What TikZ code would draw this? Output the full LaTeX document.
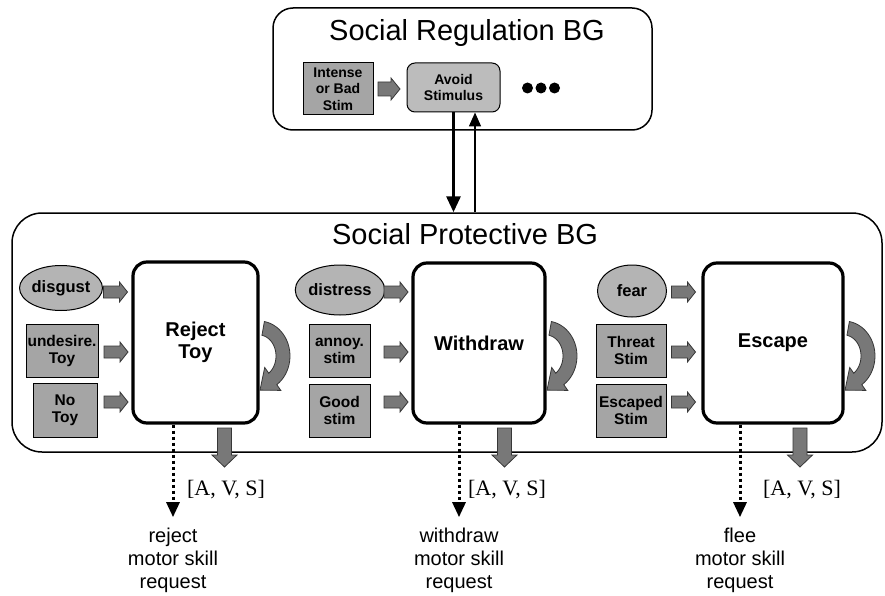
\documentclass[tikz,border=0pt]{standalone}
\usepackage{fontspec}
\setmainfont{Liberation Sans}
\newfontfamily\avsfont{Liberation Serif}
\usetikzlibrary{shapes.geometric,arrows.meta,positioning,calc}
\definecolor{stimgray}{RGB}{165,165,165}
\definecolor{emogray}{RGB}{180,180,180}
\definecolor{avoidgray}{RGB}{188,188,188}
\definecolor{arrowgray}{RGB}{120,120,120}
\definecolor{rimgray}{RGB}{55,55,55}

\begin{document}
\begin{tikzpicture}[x=1pt, y=-1pt,
    bgframe/.style={draw, line width=1.5pt, rounded corners=20pt, inner sep=0pt},
    bgtitle/.style={font=\fontsize{29}{34}\selectfont},
    behbox/.style={draw, fill=white, line width=3.2pt, rounded corners=14pt, align=center, inner sep=0pt, font=\fontsize{20}{22}\selectfont\bfseries},
    stimbox/.style={draw, fill=stimgray, line width=1pt, align=center, inner sep=0pt, font=\fontsize{15.5}{17}\selectfont\bfseries},
    emobox/.style={ellipse, draw, fill=emogray, line width=1pt, inner sep=0pt, font=\fontsize{16.5}{18}\selectfont\bfseries},
    topbox/.style={draw, fill=stimgray, line width=1pt, align=center, inner sep=0pt, font=\fontsize{14}{16.5}\selectfont\bfseries},
    dotdot/.style={circle, fill=black, inner sep=0pt, minimum size=11pt},
    dotarr/.style={line width=3pt, dash pattern=on 3pt off 3pt, -{Triangle[width=13pt,length=15pt]}},
    downarr/.style={line width=3pt, -{Triangle[width=14pt,length=16pt]}},
    uparr/.style={line width=1.6pt, -{Triangle[width=12pt,length=14pt]}},
    avslabel/.style={font=\avsfont\fontsize{22}{24}\selectfont},
    reqlabel/.style={align=center, font=\fontsize{20}{23}\selectfont},
    pics/inarr/.style={code={
      \fill[arrowgray, draw=rimgray, line width=0.8pt]
        (-12,-6) -- (4,-6) -- (4,-10) -- (12,0) -- (4,10) -- (4,6) -- (-12,6) -- cycle;
    }},
    pics/toparr/.style={code={
      \fill[arrowgray, draw=rimgray, line width=0.8pt]
        (-11,-7) -- (2,-7) -- (2,-11) -- (11,0) -- (2,11) -- (2,7) -- (-11,7) -- cycle;
    }},
    pics/outarr/.style={code={
      \fill[arrowgray, draw=rimgray, line width=0.8pt]
        (-7,-19.5) -- (7,-19.5) -- (7,7.5) -- (12.5,7.5) -- (0,19.5) -- (-12.5,7.5) -- (-7,7.5) -- cycle;
    }},
    pics/loopback/.style={code={
      \fill[arrowgray, draw=rimgray, line width=0.8pt]
        plot[domain=-80:55, samples=24] ({31*cos(\x)},{35*sin(\x)})
        -- (21.8,34.4) -- (1,34.1) -- (5.7,11.5)
        -- plot[domain=55:-80, samples=24] ({17*cos(\x)},{21*sin(\x)}) -- cycle;
    }}]
  \useasboundingbox (0,0) rectangle (885,596);

  \node[bgframe, minimum width=379pt, minimum height=122pt] (regbg) at (462.5,69) {};
  \node[bgtitle] (regtitle) at (467,33) {Social Regulation BG};
  \node[topbox, minimum width=70pt, minimum height=52pt] (intense) at (338,89) {Intense\\or Bad\\Stim};
  \node[topbox, fill=avoidgray, rounded corners=8pt, minimum width=93pt, minimum height=49pt] (avoid) at (453.5,87.5) {Avoid\\Stimulus};
  \pic (ar0) at (389,89) {toparr};
  \node[dotdot] (dota) at (527.5,88) {};
  \node[dotdot] (dotb) at (541,88) {};
  \node[dotdot] (dotc) at (554.5,88) {};

  \node[bgframe, rounded corners=30pt, minimum width=870pt, minimum height=239pt] (protbg) at (447,332.5) {};
  \node[bgtitle] (prottitle) at (465,234) {Social Protective BG};

  \coordinate (upin) at ([xshift=21.5pt]avoid.south);
  \draw[downarr] (avoid.south) -- (avoid.south |- protbg.north);
  \draw[uparr] (upin |- protbg.north) -- (upin);

  \node[emobox, minimum width=71pt, minimum height=45pt] (disgust) at (61,288) {disgust};
  \node[stimbox, minimum width=72pt, minimum height=53pt] (undesire) at (62,350.5) {undesire.\\Toy};
  \node[stimbox, minimum width=64pt, minimum height=54pt] (notoy) at (65,410) {No\\Toy};
  \node[behbox, minimum width=125pt, minimum height=161pt] (reject) at (195.5,342.5) {Reject\\Toy};
  \pic (ar1a) at (115.5,292) {inarr};
  \pic (ar1b) at (116,352) {inarr};
  \pic (ar1c) at (116,402) {inarr};
  \pic (lb1) at (259,356) {loopback};
  \pic (dn1) at (224.5,447.5) {outarr};
  \node[avslabel] (avs1) at (226,490) {[A, V, S]};
  \node[reqlabel] (rejreq) at (173,560) {reject\\motor skill\\request};
  \draw[dotarr, shorten >=7pt] (reject.south -| rejreq.north) -- (rejreq.north);

  \node[emobox, minimum width=76pt, minimum height=50pt] (distress) at (340,290) {distress};
  \node[stimbox, minimum width=61pt, minimum height=53pt] (annoy) at (339.5,350.5) {annoy.\\stim};
  \node[stimbox, minimum width=61pt, minimum height=53pt] (goodstim) at (339.5,410.5) {Good\\stim};
  \node[behbox, minimum width=132pt, minimum height=160pt] (withdraw) at (479,343) {Withdraw};
  \pic (ar2a) at (396,292) {inarr};
  \pic (ar2b) at (396,352) {inarr};
  \pic (ar2c) at (396,402) {inarr};
  \pic (lb2) at (546,356) {loopback};
  \pic (dn2) at (504.5,447.5) {outarr};
  \node[avslabel] (avs2) at (507,490) {[A, V, S]};
  \node[reqlabel] (wdreq) at (459,560) {withdraw\\motor skill\\request};
  \draw[dotarr, shorten >=7pt] (withdraw.south -| wdreq.north) -- (wdreq.north);

  \node[emobox, minimum width=69pt, minimum height=52pt] (fear) at (632,291) {fear};
  \node[stimbox, minimum width=70pt, minimum height=53pt] (threat) at (631,350.5) {Threat\\Stim};
  \node[stimbox, minimum width=70pt, minimum height=53pt] (escaped) at (631,410.5) {Escaped\\Stim};
  \node[behbox, minimum width=140pt, minimum height=160pt] (escape) at (773,343) {Escape};
  \pic (ar3a) at (683.5,292) {inarr};
  \pic (ar3b) at (683.5,352) {inarr};
  \pic (ar3c) at (683.5,402) {inarr};
  \pic (lb3) at (844,356) {loopback};
  \pic (dn3) at (800,447.5) {outarr};
  \node[avslabel] (avs3) at (802,490) {[A, V, S]};
  \node[reqlabel] (fleereq) at (740,560) {flee\\motor skill\\request};
  \draw[dotarr, shorten >=7pt] (escape.south -| fleereq.north) -- (fleereq.north);
\end{tikzpicture}
\end{document}
